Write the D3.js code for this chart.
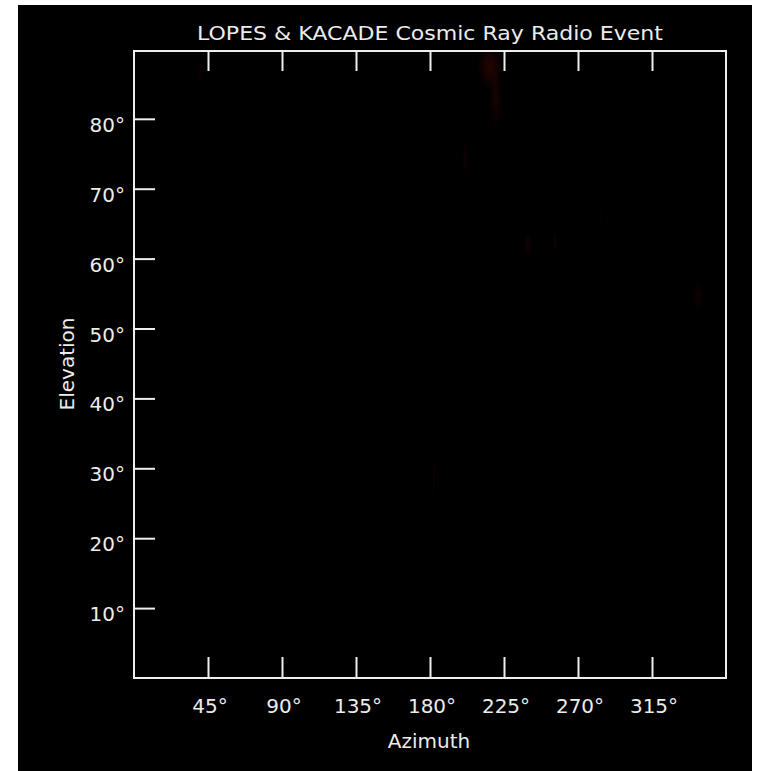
<!DOCTYPE html>
<html>
<head>
<meta charset="utf-8">
<script src="https://cdn.jsdelivr.net/npm/d3@7"></script>
<style>
  html, body { margin: 0; padding: 0; background: #fff; }
  svg { display: block; }
  text { font-family: "DejaVu Sans", sans-serif; fill: #ececec; }
</style>
</head>
<body>
<svg id="chart" width="760" height="771"></svg>
<script>
// Sky map of radio emission: azimuth / elevation of faint emission patches
const title = "LOPES & KACADE Cosmic Ray Radio Event";
const xTicks = [45, 90, 135, 180, 225, 270, 315];
const yTicks = [10, 20, 30, 40, 50, 60, 70, 80];

// emission patches (degrees) and relative brightness
const patchAz     = [216.5, 220, 201.3, 239.6, 256, 284, 343, 182.4, 40];
const patchEl     = [87.5,  83,  74.3,  62,    62.3, 66, 54.5, 28.7, 86.5];
const patchSpanAz = [8,     4,   1.8,   2.5,   1.4,  1,  3,    1,    3];
const patchSpanEl = [3.5,   4.5, 2.2,   1.8,   1.6,  1,  2.5,  3.2,  1.5];
const patchLevel  = [0.15,  0.1, 0.07,  0.08,  0.07, 0.05, 0.07, 0.06, 0.04];

const svg = d3.select("#chart");
const plotLeft = 134, plotRight = 726, plotTop = 51, plotBottom = 678;

const x = d3.scaleLinear().domain([0, 360]).range([plotLeft, plotRight]);
const y = d3.scaleLinear().domain([0, 89.7]).range([plotBottom, plotTop]);

// black canvas
svg.append("rect").attr("x", 18).attr("y", 5).attr("width", 734).attr("height", 766).attr("fill", "#000");

const defs = svg.append("defs");
defs.append("clipPath").attr("id", "plotClip")
  .append("rect").attr("x", plotLeft).attr("y", plotTop)
  .attr("width", plotRight - plotLeft).attr("height", plotBottom - plotTop);
const grad = defs.append("radialGradient").attr("id", "glow");
grad.append("stop").attr("offset", "0%").attr("stop-color", "rgb(255,30,15)").attr("stop-opacity", 1);
grad.append("stop").attr("offset", "55%").attr("stop-color", "rgb(255,30,15)").attr("stop-opacity", 0.45);
grad.append("stop").attr("offset", "100%").attr("stop-color", "rgb(255,30,15)").attr("stop-opacity", 0);

const pxPerAz = x(1) - x(0), pxPerEl = y(0) - y(1);
svg.append("g").attr("clip-path", "url(#plotClip)")
  .selectAll("ellipse")
  .data(patchAz.map((az, i) => ({az, el: patchEl[i], sa: patchSpanAz[i], se: patchSpanEl[i], lv: patchLevel[i]})))
  .join("ellipse")
  .attr("cx", d => x(d.az))
  .attr("cy", d => y(d.el))
  .attr("rx", d => d.sa * pxPerAz)
  .attr("ry", d => d.se * pxPerEl)
  .attr("fill", "url(#glow)")
  .attr("opacity", d => d.lv);

// frame
svg.append("rect")
  .attr("x", plotLeft).attr("y", plotTop)
  .attr("width", plotRight - plotLeft).attr("height", plotBottom - plotTop)
  .attr("fill", "none").attr("stroke", "#eee").attr("stroke-width", 2);

// axes with inward ticks
const axisStyle = g => {
  g.select(".domain").remove();
  g.selectAll(".tick line").attr("stroke", "#eee").attr("stroke-width", 2);
};
svg.append("g").attr("transform", `translate(0,${plotBottom})`)
  .call(d3.axisTop(x).tickValues(xTicks).tickSize(21).tickFormat(""))
  .call(axisStyle);
svg.append("g").attr("transform", `translate(0,${plotTop})`)
  .call(d3.axisBottom(x).tickValues(xTicks).tickSize(20).tickFormat(""))
  .call(axisStyle);
svg.append("g").attr("transform", `translate(${plotLeft},0)`)
  .call(d3.axisRight(y).tickValues(yTicks).tickSize(21).tickFormat(""))
  .call(axisStyle);

// tick labels
svg.append("g").selectAll("text").data(xTicks).join("text")
  .attr("x", d => x(d) + 2).attr("y", 713)
  .attr("text-anchor", "middle").attr("font-size", 20)
  .text(d => d + "°");
svg.append("g").selectAll("text").data(yTicks).join("text")
  .attr("x", 125).attr("y", d => y(d) + 13)
  .attr("text-anchor", "end").attr("font-size", 20)
  .text(d => d + "°");

// titles
svg.append("text").attr("x", 430).attr("y", 40).attr("text-anchor", "middle")
  .attr("font-size", 20).attr("textLength", 466).attr("lengthAdjust", "spacingAndGlyphs")
  .text(title);
svg.append("text").attr("x", 429).attr("y", 748).attr("text-anchor", "middle")
  .attr("font-size", 20).text("Azimuth");
svg.append("text").attr("transform", "translate(74,364) rotate(-90)").attr("text-anchor", "middle")
  .attr("font-size", 20).text("Elevation");
</script>
</body>
</html>
